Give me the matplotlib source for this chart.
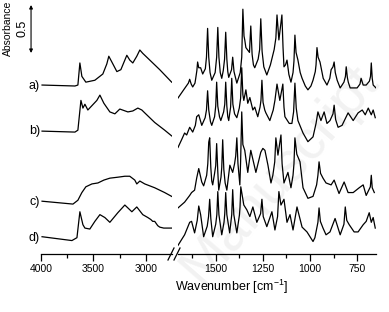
import numpy as np
import matplotlib
matplotlib.use("Agg")
import matplotlib.pyplot as plt
from matplotlib.lines import Line2D

plt.rcParams['font.family'] = ['Liberation Sans', 'DejaVu Sans']
plt.rcParams['mathtext.default'] = 'regular'

# spectra: (wavenumber cm-1, absorbance above each trace's baseline)
a_left = [(3990, 0.01), (3676, 0.0), (3648, 0.01), (3629, 0.24), (3610, 0.10), (3572, 0.04), (3486, 0.06),
          (3410, 0.125), (3372, 0.23), (3353, 0.31), (3324, 0.25), (3276, 0.15), (3238, 0.17), (3200, 0.27),
          (3181, 0.32), (3153, 0.27), (3124, 0.24), (3086, 0.31), (3057, 0.375), (3029, 0.34), (2962, 0.27),
          (2867, 0.17), (2753, 0.04)]
a_right = [(1700, -0.125), (1670, -0.04), (1645, 0.03), (1638, 0.07), (1630, 0.02), (1622, -0.01),
           (1610, 0.03), (1606, 0.08), (1600, 0.16), (1596, 0.25), (1590, 0.19), (1580, 0.19), (1569, 0.125),
           (1555, 0.18), (1549, 0.30), (1543, 0.60), (1537, 0.30), (1530, 0.14), (1521, 0.06),
           (1503, 0.14), (1495, 0.30), (1489, 0.61), (1483, 0.30), (1476, 0.14), (1468, 0.08),
           (1460, 0.16), (1453, 0.28), (1447, 0.56), (1441, 0.28), (1436, 0.15), (1431, 0.09),
           (1416, 0.17), (1410, 0.30), (1403, 0.15), (1388, 0.03), (1370, 0.14), (1362, 0.30),
           (1356, 0.80), (1350, 0.52), (1346, 0.48), (1340, 0.40), (1321, 0.35), (1314, 0.625),
           (1307, 0.33), (1300, 0.22), (1293, 0.19), (1275, 0.28), (1267, 0.38), (1261, 0.70),
           (1254, 0.36), (1245, 0.20), (1229, 0.115), (1210, 0.22), (1190, 0.38), (1181, 0.50),
           (1175, 0.74), (1165, 0.48), (1149, 0.74), (1143, 0.40), (1138, 0.20), (1130, 0.22),
           (1122, 0.27), (1112, 0.12), (1101, 0.04), (1090, 0.14), (1085, 0.26), (1080, 0.53),
           (1074, 0.35), (1064, 0.27), (1052, 0.14), (1042, 0.08), (1025, 0.0), (1011, -0.04),
           (995, 0.0), (984, 0.06), (972, 0.15), (968, 0.22), (963, 0.40), (957, 0.30), (947, 0.25),
           (930, 0.08), (910, 0.01), (895, 0.08), (888, 0.17), (878, 0.20), (872, 0.25), (866, 0.14),
           (856, 0.06), (840, -0.02), (820, 0.04), (812, 0.10), (808, 0.20), (802, 0.09), (797, 0.04),
           (787, -0.02), (750, -0.02), (735, 0.02), (729, 0.08), (718, 0.01), (702, 0.01), (685, 0.05),
           (679, 0.10), (675, 0.24), (670, 0.08), (665, 0.01), (650, -0.02)]

b_left = [(3990, 0.0), (3676, -0.01), (3648, 0.01), (3619, 0.32), (3600, 0.24), (3581, 0.28), (3553, 0.22),
          (3467, 0.32), (3438, 0.375), (3400, 0.29), (3343, 0.20), (3295, 0.18), (3248, 0.23), (3171, 0.20),
          (3124, 0.21), (3076, 0.24), (3038, 0.22), (3010, 0.19), (2915, 0.09), (2820, 0.01), (2753, -0.05)]
b_right = [(1700, -0.17), (1681, -0.09), (1665, -0.02), (1654, -0.04), (1638, 0.04), (1622, -0.01),
           (1608, 0.06), (1601, 0.15), (1590, 0.17), (1574, 0.06), (1556, 0.14), (1549, 0.22), (1543, 0.42),
           (1537, 0.22), (1528, 0.10), (1521, 0.06), (1506, 0.15), (1500, 0.26), (1495, 0.51), (1489, 0.26),
           (1480, 0.15), (1473, 0.11), (1458, 0.20), (1452, 0.28), (1447, 0.51), (1441, 0.26), (1436, 0.15),
           (1431, 0.11), (1421, 0.25), (1415, 0.55), (1409, 0.28), (1400, 0.18), (1388, 0.14), (1375, 0.24),
           (1368, 0.34), (1362, 0.66), (1356, 0.38), (1351, 0.32), (1340, 0.43), (1330, 0.29), (1319, 0.35),
           (1303, 0.22), (1293, 0.25), (1277, 0.15), (1265, 0.25), (1260, 0.32), (1255, 0.53), (1249, 0.30),
           (1240, 0.22), (1234, 0.19), (1213, 0.11), (1195, 0.22), (1186, 0.32), (1175, 0.49), (1160, 0.32),
           (1144, 0.49), (1138, 0.25), (1133, 0.15), (1110, 0.08), (1096, 0.08), (1087, 0.20), (1080, 0.50),
           (1073, 0.24), (1064, 0.11), (1037, -0.02), (1011, -0.11), (984, -0.06), (968, 0.08), (958, 0.20),
           (942, 0.11), (925, 0.20), (910, 0.08), (894, 0.11), (878, 0.18), (872, 0.27), (864, 0.12),
           (851, 0.04), (830, 0.06), (798, 0.19), (771, 0.11), (745, 0.19), (723, 0.22), (707, 0.17),
           (691, 0.24), (675, 0.17), (665, 0.22), (654, 0.14)]

c_left = [(3990, 0.01), (3695, -0.02), (3648, 0.02), (3610, 0.10), (3572, 0.16), (3514, 0.19), (3457, 0.20),
          (3400, 0.23), (3343, 0.25), (3267, 0.26), (3200, 0.27), (3153, 0.27), (3105, 0.23), (3086, 0.19),
          (3057, 0.22), (3010, 0.19), (2915, 0.15), (2820, 0.10), (2753, 0.06)]
c_right = [(1700, -0.06), (1665, 0.0), (1638, 0.07), (1628, 0.10), (1612, 0.125), (1601, 0.25), (1590, 0.35),
           (1574, 0.21), (1564, 0.17), (1548, 0.28), (1542, 0.40), (1537, 0.625), (1532, 0.67), (1526, 0.36),
           (1521, 0.22), (1516, 0.18), (1506, 0.30), (1500, 0.38), (1495, 0.61), (1489, 0.32), (1484, 0.125),
           (1472, 0.26), (1468, 0.36), (1463, 0.65), (1457, 0.34), (1450, 0.20), (1441, 0.125), (1425, 0.385),
           (1410, 0.31), (1400, 0.40), (1394, 0.48), (1388, 0.67), (1382, 0.40), (1372, 0.18), (1368, 0.42),
           (1362, 0.94), (1356, 0.60), (1346, 0.54), (1330, 0.31), (1314, 0.54), (1287, 0.31), (1261, 0.52),
           (1250, 0.56), (1239, 0.54), (1223, 0.385), (1207, 0.20), (1197, 0.28), (1187, 0.42), (1181, 0.67),
           (1170, 0.49), (1154, 0.70), (1148, 0.40), (1138, 0.20), (1117, 0.31), (1101, 0.15), (1090, 0.28),
           (1085, 0.40), (1080, 0.67), (1070, 0.50), (1053, 0.42), (1037, 0.15), (1011, 0.04), (984, 0.06),
           (965, 0.18), (958, 0.28), (952, 0.42), (944, 0.30), (931, 0.25), (915, 0.20), (888, 0.18),
           (872, 0.23), (846, 0.09), (819, 0.21), (798, 0.10), (771, 0.10), (739, 0.15), (718, 0.18),
           (702, 0.07), (680, 0.16), (675, 0.28), (670, 0.15), (659, 0.10)]

d_left = [(3990, 0.01), (3705, -0.03), (3657, 0.0), (3629, 0.27), (3600, 0.135), (3581, 0.10), (3534, 0.09),
          (3486, 0.17), (3438, 0.24), (3391, 0.21), (3343, 0.16), (3267, 0.26), (3200, 0.34), (3171, 0.31),
          (3133, 0.27), (3086, 0.32), (3029, 0.24), (2981, 0.21), (2953, 0.19), (2934, 0.17), (2915, 0.17),
          (2886, 0.125), (2867, 0.11), (2829, 0.10), (2753, 0.10)]
d_right = [(1700, -0.08), (1681, -0.02), (1665, 0.03), (1638, 0.16), (1628, 0.17), (1612, 0.05), (1598, 0.18),
           (1590, 0.33), (1580, 0.24), (1564, 0.01), (1545, 0.12), (1538, 0.22), (1532, 0.40), (1526, 0.20),
           (1516, 0.01), (1500, 0.14), (1494, 0.24), (1489, 0.48), (1483, 0.24), (1468, 0.03), (1456, 0.16),
           (1452, 0.25), (1447, 0.47), (1441, 0.24), (1426, 0.05), (1415, 0.24), (1410, 0.50), (1404, 0.24),
           (1388, 0.05), (1374, 0.24), (1371, 0.32), (1367, 0.53), (1351, 0.34), (1335, 0.29), (1319, 0.22),
           (1303, 0.32), (1282, 0.16), (1262, 0.25), (1255, 0.40), (1248, 0.22), (1229, 0.115), (1202, 0.27),
           (1186, 0.08), (1172, 0.22), (1165, 0.48), (1154, 0.34), (1138, 0.40), (1122, 0.16), (1106, 0.24),
           (1090, 0.08), (1069, 0.32), (1042, 0.11), (1016, 0.06), (984, -0.04), (974, 0.0), (958, 0.16),
           (952, 0.31), (945, 0.17), (931, 0.10), (915, 0.03), (894, 0.06), (867, 0.20), (840, 0.03),
           (820, 0.14), (813, 0.32), (805, 0.18), (792, 0.135), (766, 0.06), (745, 0.06), (718, 0.135),
           (702, 0.17), (686, 0.26), (675, 0.16), (665, 0.21), (654, 0.10)]

labels = ['a)', 'b)', 'c)', 'd)']
offsets = [1.75, 1.28, 0.54, 0.17]
left_ticks = [4000, 3500, 3000]
right_ticks = [1500, 1250, 1000, 750]

spectra = [(a_left, a_right), (b_left, b_right), (c_left, c_right), (d_left, d_right)]

W, H = 389, 312
fig = plt.figure(figsize=(W / 100, H / 100), dpi=100)

# faint watermark behind everything
fig.text(0.72, 0.44, 'Manuscript', rotation=49, fontsize=40, color='#f2f2f2',
         ha='center', va='center', zorder=-1)

bottom = (H - 254) / H
height = 252 / H
ax1 = fig.add_axes([41 / W, bottom, 131 / W, height])
ax2 = fig.add_axes([178 / W, bottom, 198 / W, height])
ylim = (0, 252 / 96)

for (left, right), off, lab in zip(spectra, offsets, labels):
    lw_, la = np.array(left).T
    rw, ra = np.array(right).T
    ax1.plot(lw_, la + off, color='black', lw=0.9)
    ax2.plot(rw, ra + off, color='black', lw=0.9)
    ax1.text(4010, off, lab, ha='right', va='center', fontsize=9, clip_on=False)

for ax in (ax1, ax2):
    ax.set_ylim(*ylim)
    ax.patch.set_visible(False)
    for s in ('left', 'right', 'top'):
        ax.spines[s].set_visible(False)
    ax.spines['bottom'].set_linewidth(0.9)
    ax.set_yticks([])
    ax.tick_params(axis='x', which='major', direction='out', length=5, width=0.9,
                   labelsize=7.5, pad=2)
    ax.tick_params(axis='x', which='minor', direction='out', length=3, width=0.9)

ax1.set_xlim(4000, 2750)
ax1.set_xticks(left_ticks)
ax1.set_xticks([3750, 3250], minor=True)
ax2.set_xlim(1700, 650)
ax2.set_xticks(right_ticks)
ax2.set_xticks([1625, 1375, 1125, 875], minor=True)

# axis break marks
for x0 in (168, 174):
    fig.add_artist(Line2D([x0 / W, (x0 + 6) / W], [(H - 260) / H, (H - 248) / H],
                          color='black', lw=0.9))

# 0.5 absorbance scale bar
top = ylim[1] - 3 / 96
ax1.annotate('', xy=(4095, top), xytext=(4095, top - 0.5), annotation_clip=False,
             arrowprops=dict(arrowstyle='<|-|>', lw=0.8, color='black', mutation_scale=5,
                             shrinkA=0, shrinkB=0))
fig.text(22 / W, 1 - 28 / H, '0.5', rotation=90, ha='center', va='center', fontsize=9)
fig.text(8 / W, 1 - 28 / H, 'Absorbance', rotation=90, ha='center', va='center', fontsize=7.5)

fig.text(232 / W, 1 - 287 / H, 'Wavenumber [cm$^{-1}$]', ha='center', va='center', fontsize=9)

fig.savefig('out.png', dpi=100)
